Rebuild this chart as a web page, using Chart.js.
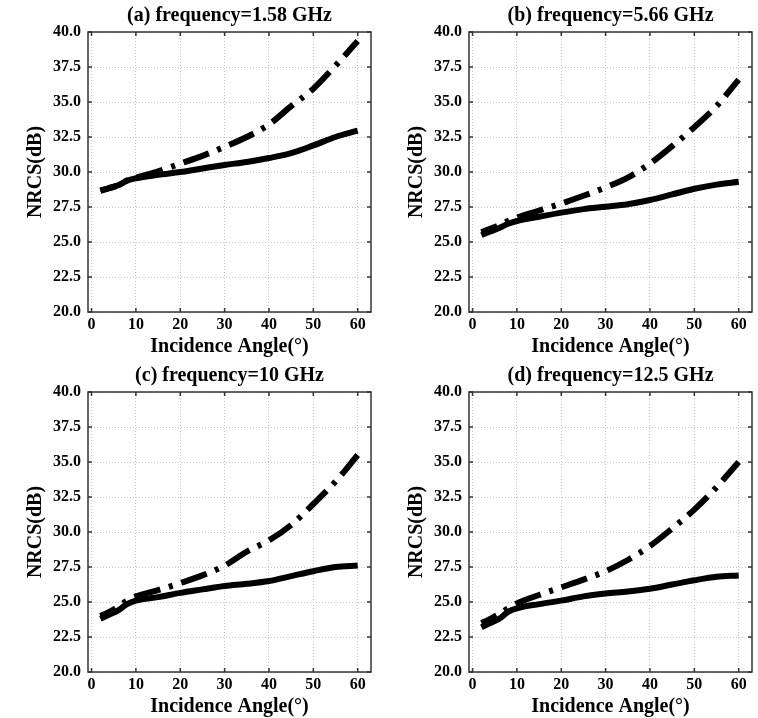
<!DOCTYPE html>
<html>
<head>
<meta charset="utf-8">
<script src="https://cdn.jsdelivr.net/npm/chart.js@4"></script>
<style>
	html, body { margin: 0; padding: 0; background: #fff; overflow: hidden; }
	#wrap { position: relative; width: 758px; height: 718px; }
	.panel { position: absolute; }
</style>
</head>
<body>
<div id="wrap">
	<canvas class="panel" id="chartA" width="379" height="361" style="left:0px;top:0px"></canvas>
	<canvas class="panel" id="chartB" width="379" height="361" style="left:381px;top:0px"></canvas>
	<canvas class="panel" id="chartC" width="379" height="361" style="left:0px;top:360px"></canvas>
	<canvas class="panel" id="chartD" width="379" height="361" style="left:381px;top:360px"></canvas>
</div>
<script>
// x축 : 입사각
const angles = [2, 4, 6, 8, 10, 15, 20, 25, 30, 35, 40, 45, 50, 55, 60];
const xTicks = [0, 10, 20, 30, 40, 50, 60];
const yTicks = [20, 22.5, 25, 27.5, 30, 32.5, 35, 37.5, 40];

const titles = [
	'(a) frequency=1.58 GHz',
	'(b) frequency=5.66 GHz',
	'(c) frequency=10 GHz',
	'(d) frequency=12.5 GHz'
];

// 실선
const solidA = [28.68, 28.85, 29.05, 29.38, 29.55, 29.8, 30.0, 30.25, 30.5, 30.72, 31.0, 31.35, 31.9, 32.5, 32.95];
const solidB = [25.5, 25.75, 26.0, 26.3, 26.5, 26.8, 27.1, 27.35, 27.52, 27.7, 28.0, 28.4, 28.8, 29.1, 29.3];
const solidC = [23.8, 24.1, 24.4, 24.85, 25.1, 25.35, 25.65, 25.9, 26.15, 26.3, 26.5, 26.85, 27.2, 27.5, 27.6];
const solidD = [23.2, 23.5, 23.8, 24.3, 24.55, 24.85, 25.1, 25.4, 25.6, 25.75, 25.95, 26.25, 26.55, 26.8, 26.9];

// 일점쇄선
const dashA = [28.65, 28.85, 29.05, 29.4, 29.6, 30.05, 30.6, 31.15, 31.8, 32.5, 33.4, 34.7, 35.95, 37.6, 39.35];
const dashB = [25.7, 25.95, 26.2, 26.5, 26.75, 27.25, 27.75, 28.3, 28.9, 29.6, 30.6, 31.85, 33.2, 34.7, 36.6];
const dashC = [24.0, 24.3, 24.65, 25.1, 25.4, 25.85, 26.35, 26.9, 27.6, 28.6, 29.4, 30.5, 32.0, 33.6, 35.5];
const dashD = [23.5, 23.8, 24.15, 24.55, 24.9, 25.5, 26.05, 26.6, 27.2, 28.0, 29.0, 30.25, 31.6, 33.2, 35.0];

const FONT = "'Liberation Serif', 'Times New Roman', serif";

function toPoints(ys) {
	return angles.map(function(x, i) {
		return { x: x, y: ys[i] };
	});
}

// 테두리 + 안쪽 눈금 + 제목(플롯 영역 중앙)
const boxPlugin = {
	id: 'boxTicks',
	afterDraw: function(chart) {
		const ctx = chart.ctx;
		const a = chart.chartArea;
		const xs = chart.scales.x;
		const ys = chart.scales.y;
		const tl = 4;
		ctx.save();
		ctx.strokeStyle = '#333';
		ctx.lineWidth = 1.5;
		ctx.beginPath();
		xTicks.forEach(function(v) {
			const px = xs.getPixelForValue(v);
			ctx.moveTo(px, a.bottom);
			ctx.lineTo(px, a.bottom - tl);
			ctx.moveTo(px, a.top);
			ctx.lineTo(px, a.top + tl);
		});
		yTicks.forEach(function(v) {
			const py = ys.getPixelForValue(v);
			ctx.moveTo(a.left, py);
			ctx.lineTo(a.left + tl, py);
			ctx.moveTo(a.right, py);
			ctx.lineTo(a.right - tl, py);
		});
		ctx.stroke();
		ctx.strokeRect(a.left, a.top, a.right - a.left, a.bottom - a.top);

		ctx.fillStyle = '#000';
		ctx.font = "bold 20px " + FONT;
		ctx.textAlign = 'center';
		ctx.textBaseline = 'middle';
		ctx.fillText(chart.options.panelTitle, (a.left + a.right) / 2, 16);
		ctx.restore();
	}
};

function drawPanel(id, title, solid, dash) {
	const ctx = document.getElementById(id).getContext('2d');
	return new Chart(ctx, {
		type: 'line',
		data: {
			datasets: [{
				data: toPoints(dash),
				borderColor: '#000',
				borderWidth: 6,
				borderDash: [27, 9, 4, 9],
				borderDashOffset: 10,
				borderCapStyle: 'butt',
				pointRadius: 0,
				cubicInterpolationMode: 'monotone',
				fill: false
			}, {
				data: toPoints(solid),
				borderColor: '#000',
				borderWidth: 6,
				pointRadius: 0,
				cubicInterpolationMode: 'monotone',
				fill: false
			}]
		},
		options: {
			panelTitle: title,
			responsive: false,
			animation: false,
			layout: { padding: { left: 0, right: 8, top: 32, bottom: 0 } },
			scales: {
				x: {
					type: 'linear',
					min: -0.8,
					max: 63,
					afterBuildTicks: function(scale) {
						scale.ticks = xTicks.map(function(v) { return { value: v }; });
					},
					afterFit: function(scale) { scale.height = 49; },
					ticks: {
						color: '#000',
						padding: 3,
						font: { family: FONT, size: 16, weight: 'bold' },
						callback: function(v) { return String(v); }
					},
					grid: { color: '#c4c4c4', lineWidth: 1, drawTicks: false },
					border: { display: false, dash: [1, 2] },
					title: {
						display: true,
						text: 'Incidence Angle(°)',
						color: '#000',
						padding: { top: 0, bottom: 2 },
						font: { family: FONT, size: 20, weight: 'bold' }
					}
				},
				y: {
					min: 20,
					max: 40,
					afterBuildTicks: function(scale) {
						scale.ticks = yTicks.map(function(v) { return { value: v }; });
					},
					afterFit: function(scale) { scale.width = 88; },
					ticks: {
						color: '#000',
						padding: 7,
						font: { family: FONT, size: 16, weight: 'bold' },
						callback: function(v) { return Number(v).toFixed(1); }
					},
					grid: { color: '#c4c4c4', lineWidth: 1, drawTicks: false },
					border: { display: false, dash: [1, 2] },
					title: {
						display: true,
						text: 'NRCS(dB)',
						color: '#000',
						padding: { top: 24, bottom: 0 },
						font: { family: FONT, size: 20, weight: 'bold' }
					}
				}
			},
			plugins: {
				legend: { display: false },
				tooltip: { enabled: false },
				title: { display: false }
			}
		},
		plugins: [boxPlugin]
	});
}

drawPanel('chartA', titles[0], solidA, dashA);
drawPanel('chartB', titles[1], solidB, dashB);
drawPanel('chartC', titles[2], solidC, dashC);
drawPanel('chartD', titles[3], solidD, dashD);
</script>
</body>
</html>
